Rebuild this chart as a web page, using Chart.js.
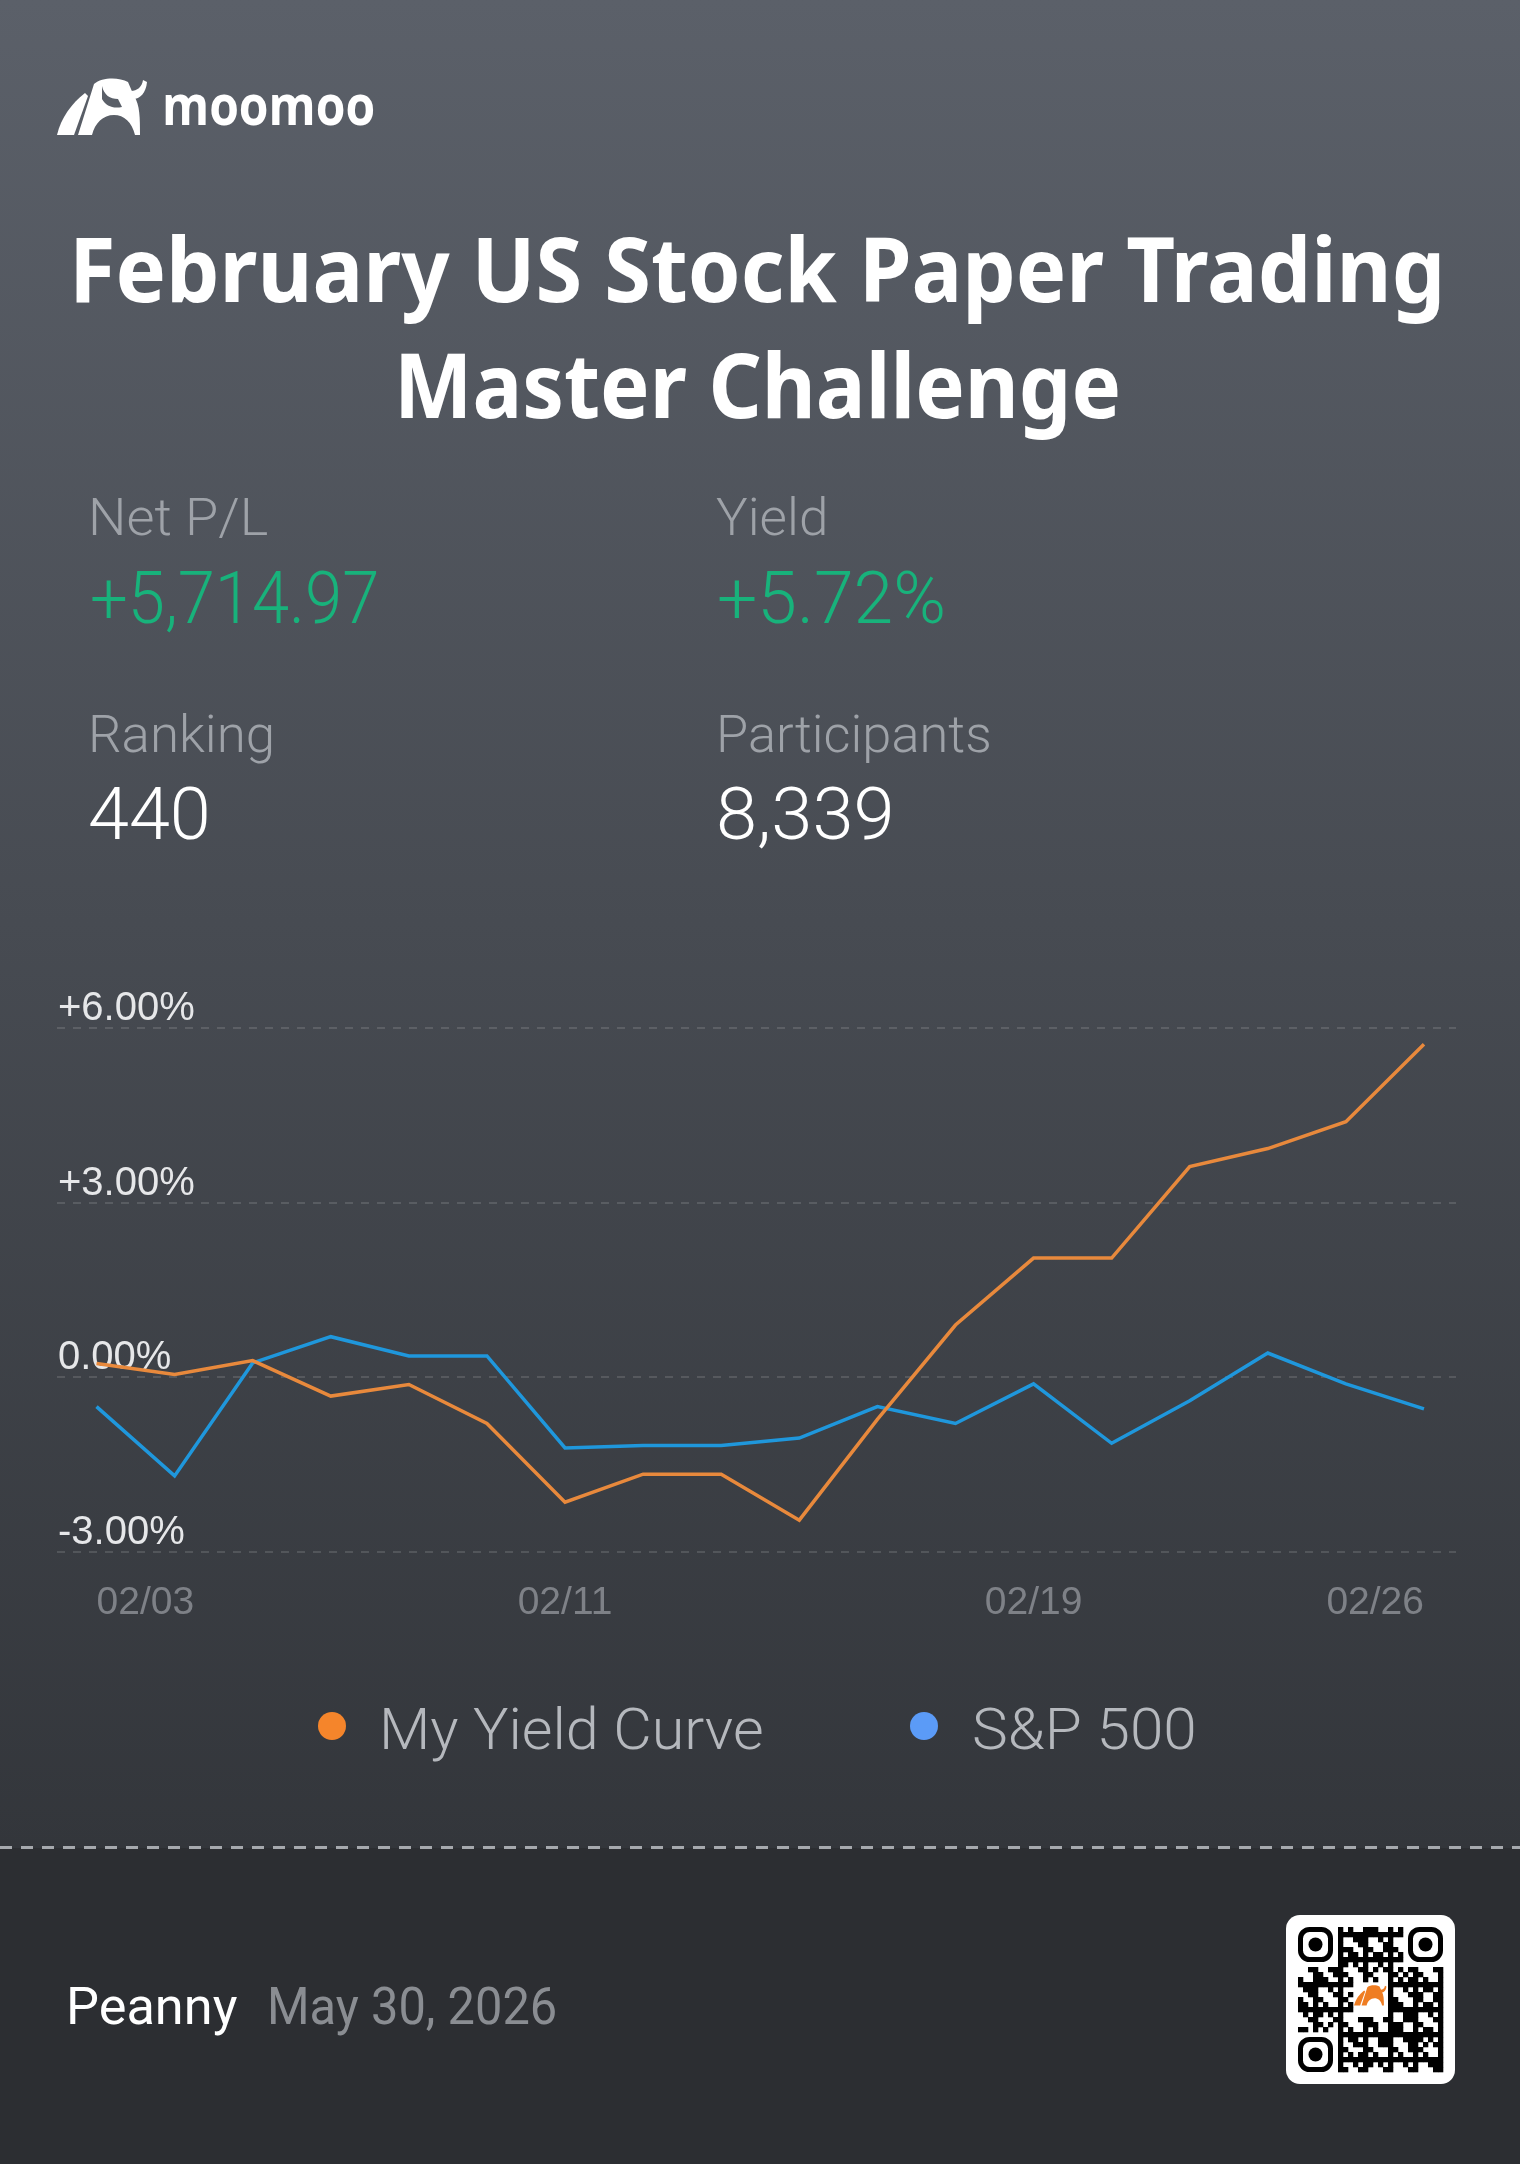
<!DOCTYPE html>
<html>
<head>
<meta charset="utf-8">
<title>February US Stock Paper Trading Master Challenge</title>
<script src="https://cdn.jsdelivr.net/npm/chart.js@4.4.1/dist/chart.umd.min.js"></script>
<style>
  html, body { margin: 0; padding: 0; }
  body { width: 1520px; height: 2164px; position: relative; overflow: hidden; background: #2c2e32; font-family: Roboto, 'Noto Sans', sans-serif; }
  #top { position: absolute; left: 0; top: 0; width: 1520px; height: 1848px; background: linear-gradient(180deg, #5b6069 0%, #474b52 50%, #33363b 100%); }
  #sep { position: absolute; left: 0; top: 1846px; width: 1520px; height: 3px; background: repeating-linear-gradient(90deg, #a6a9ae 0 12px, transparent 12px 21px); }
  .t { position: absolute; white-space: nowrap; line-height: 1; transform-origin: 0 0; }
  .brand { font-family: 'Open Sans'; font-weight: 700; font-size: 55px; color: #fff; }
  .title { font-family: 'Noto Sans'; font-weight: 700; font-size: 90px; color: #fff; }
  .lbl { font-weight: 300; font-size: 52px; color: #9ea2a8; }
  .val { font-weight: 300; font-size: 72px; }
  .green { color: #18b27b; }
  .white { color: #fff; }
  .leg { font-weight: 300; font-size: 57px; color: #b5b8bd; }
  .foot { font-weight: 400; font-size: 52px; }
  .dot { position: absolute; width: 28px; height: 28px; border-radius: 50%; }
  #chartBox { position: absolute; left: 0; top: 960px; width: 1520px; height: 700px; }
  #logo { position: absolute; left: 57px; top: 78px; }
  #qr { position: absolute; left: 1286px; top: 1915px; }
</style>
</head>
<body>
<div id="top"></div>
<div id="sep"></div>

<svg id="logo" width="92" height="58" viewBox="0 0 92 58">
  <path fill="#fff" d="M0,57 C4,40 14,26 28,15 L31,18 L17,57 Z"/>
  <path fill="#fff" d="M21,57 L37,6 C45,-1 62,-1 71,4 L77,18 C83,27 83,40 83,57 L78,57 C75,44 67,37 57,37 C46,37 38,45 35,57 Z"/>
  <path fill="#fff" d="M74,13 C80,13 85,9 86,2 L90,4 C89,15 83,21 76,21 Z"/>
  <path fill="#5a5f68" d="M45,8 C47,17 53,21 61,21 L65,29 C56,31 49,28 45,21 Z"/>
</svg>
<div class="t brand" data-x="162" data-base="125" data-w="213">moomoo</div>

<div class="t title" data-cx="757" data-base="302" data-w="1376">February US Stock Paper Trading</div>
<div class="t title" data-cx="757" data-base="418" data-w="727">Master Challenge</div>

<div class="t lbl" data-x="88" data-base="535" data-w="180">Net P/L</div>
<div class="t val green" data-x="90" data-base="623" data-w="289">+5,714.97</div>
<div class="t lbl" data-x="716" data-base="535" data-w="112">Yield</div>
<div class="t val green" data-x="717" data-base="623" data-w="229">+5.72%</div>
<div class="t lbl" data-x="88" data-base="752" data-w="187">Ranking</div>
<div class="t val white" data-x="88" data-base="839" data-w="123">440</div>
<div class="t lbl" data-x="716" data-base="752" data-w="276">Participants</div>
<div class="t val white" data-x="716" data-base="839" data-w="179">8,339</div>

<div id="chartBox"><canvas id="chart" width="1520" height="700"></canvas></div>

<div class="dot" style="left:318px; top:1712px; background:#f5852b;"></div>
<div class="t leg" id="leg0" data-x="379" data-base="1749" data-w="385"></div>
<div class="dot" style="left:910px; top:1712px; background:#5b9bf7;"></div>
<div class="t leg" id="leg1" data-x="972" data-base="1749" data-w="225"></div>

<div class="t foot white" data-x="66" data-base="2024" data-w="171">Peanny</div>
<div class="t foot" style="color:#8a8d92" data-x="267" data-base="2024" data-w="290">May 30, 2026</div>

<svg id="qr" width="169" height="169" viewBox="0 0 169 169"></svg>

<script>
const dates = ['02/03', '02/04', '02/05', '02/06', '02/09', '02/10', '02/11', '02/12', '02/13',
               '02/16', '02/17', '02/18', '02/19', '02/20', '02/23', '02/24', '02/25', '02/26'];
const myYieldCurve = [0.24, 0.05, 0.29, -0.32, -0.12, -0.79, -2.14, -1.66, -1.66,
                      -2.45, -0.72, 0.90, 2.05, 2.05, 3.62, 3.93, 4.39, 5.72];
const sp500 = [-0.50, -1.69, 0.25, 0.70, 0.37, 0.37, -1.21, -1.17, -1.17,
               -1.04, -0.50, -0.79, -0.11, -1.13, -0.40, 0.42, -0.11, -0.54];
const seriesNames = ['My Yield Curve', 'S&P 500'];
const yTicks = [-3, 0, 3, 6];
const xTickDates = ['02/03', '02/11', '02/19', '02/26'];

document.getElementById('leg0').textContent = seriesNames[0];
document.getElementById('leg1').textContent = seriesNames[1];

// place every text block by its baseline and squeeze it to the measured width
function placeText() {
    document.querySelectorAll('.t').forEach(el => {
        const probe = document.createElement('span');
        probe.style.cssText = 'display:inline-block;width:0;height:0;vertical-align:baseline;';
        el.appendChild(probe);
        const base = probe.offsetTop;
        el.removeChild(probe);
        const w = el.offsetWidth;
        const target = el.dataset.w ? +el.dataset.w : w;
        el.style.transform = 'scaleX(' + (target / w) + ')';
        const left = el.dataset.cx ? (+el.dataset.cx - target / 2) : +el.dataset.x;
        el.style.left = left + 'px';
        el.style.top = (+el.dataset.base - base) + 'px';
    });
}
placeText();

// qr badge (decorative)
function drawQr() {
    const svg = document.getElementById('qr');
    const n = 29, m = 5, o = 12;
    let s = '<rect x="0" y="0" width="169" height="169" rx="14" fill="#fff"/>';
    const inFinder = (i, j) => (i < 8 && j < 8) || (i > 20 && j < 8) || (i < 8 && j > 20);
    const inCenter = (i, j) => i > 10 && i < 18 && j > 10 && j < 18;
    for (let j = 0; j < n; j++) {
        for (let i = 0; i < n; i++) {
            if (inFinder(i, j) || inCenter(i, j)) continue;
            if (((i * 7 + j * 11 + i * j * 3) % 5) < 2 || ((i ^ j) % 7 === 0)) {
                s += `<rect x="${o + i * m}" y="${o + j * m}" width="${m + 0.3}" height="${m + 0.3}" fill="#000"/>`;
            }
        }
    }
    [[0, 0], [22, 0], [0, 22]].forEach(([i, j]) => {
        const x = o + i * m, y = o + j * m;
        s += `<rect x="${x + 2.5}" y="${y + 2.5}" width="30" height="30" rx="9" fill="none" stroke="#000" stroke-width="5"/>`;
        s += `<circle cx="${x + 17.5}" cy="${y + 17.5}" r="7" fill="#000"/>`;
    });
    s += '<g transform="translate(68,70) scale(0.36)">' +
         '<path fill="#ef7d22" d="M0,57 C4,40 14,26 28,15 L31,18 L17,57 Z"/>' +
         '<path fill="#ef7d22" d="M21,57 L37,6 C45,-1 62,-1 71,4 L77,18 C83,27 83,40 83,57 L78,57 C75,44 67,37 57,37 C46,37 38,45 35,57 Z"/>' +
         '<path fill="#ef7d22" d="M74,13 C80,13 85,9 86,2 L90,4 C89,15 83,21 76,21 Z"/></g>';
    svg.innerHTML = s;
}
drawQr();

const ctx = document.getElementById('chart').getContext('2d');
new Chart(ctx, {
    type: 'line',
    data: {
        datasets: [
            {
                label: seriesNames[0],
                data: myYieldCurve.map((v, i) => ({ x: i, y: v })),
                borderColor: '#e8893c',
                borderWidth: 3.5,
                pointRadius: 0,
                tension: 0,
                fill: false
            },
            {
                label: seriesNames[1],
                data: sp500.map((v, i) => ({ x: i, y: v })),
                borderColor: '#1f97dc',
                borderWidth: 3.5,
                pointRadius: 0,
                tension: 0,
                fill: false
            }
        ]
    },
    options: {
        responsive: false,
        animation: false,
        devicePixelRatio: 1,
        layout: { padding: { left: 55, right: 64, top: 68, bottom: 13 } },
        plugins: { legend: { display: false }, tooltip: { enabled: false } },
        scales: {
            x: {
                type: 'linear',
                min: -0.506,
                max: 17.41,
                grid: { display: false },
                border: { display: false },
                afterBuildTicks: axis => { axis.ticks = xTickDates.map(d => ({ value: dates.indexOf(d) })); },
                ticks: {
                    color: '#7e8187',
                    font: { family: 'Liberation Sans', size: 39 },
                    padding: 20,
                    align: 'inner',
                    maxRotation: 0,
                    autoSkip: false,
                    callback: v => dates[v]
                }
            },
            y: {
                min: -3,
                max: 6,
                afterBuildTicks: axis => { axis.ticks = yTicks.map(v => ({ value: v })); },
                grid: { color: 'rgba(255,255,255,0.13)', lineWidth: 2, drawTicks: false },
                border: { display: false, dash: [8, 8] },
                ticks: {
                    mirror: true,
                    padding: 1,
                    labelOffset: -19,
                    color: '#e6e7e9',
                    font: { family: 'Liberation Sans', size: 40 },
                    callback: v => (v > 0 ? '+' : '') + v.toFixed(2) + '%'
                }
            }
        }
    }
});
</script>
</body>
</html>
